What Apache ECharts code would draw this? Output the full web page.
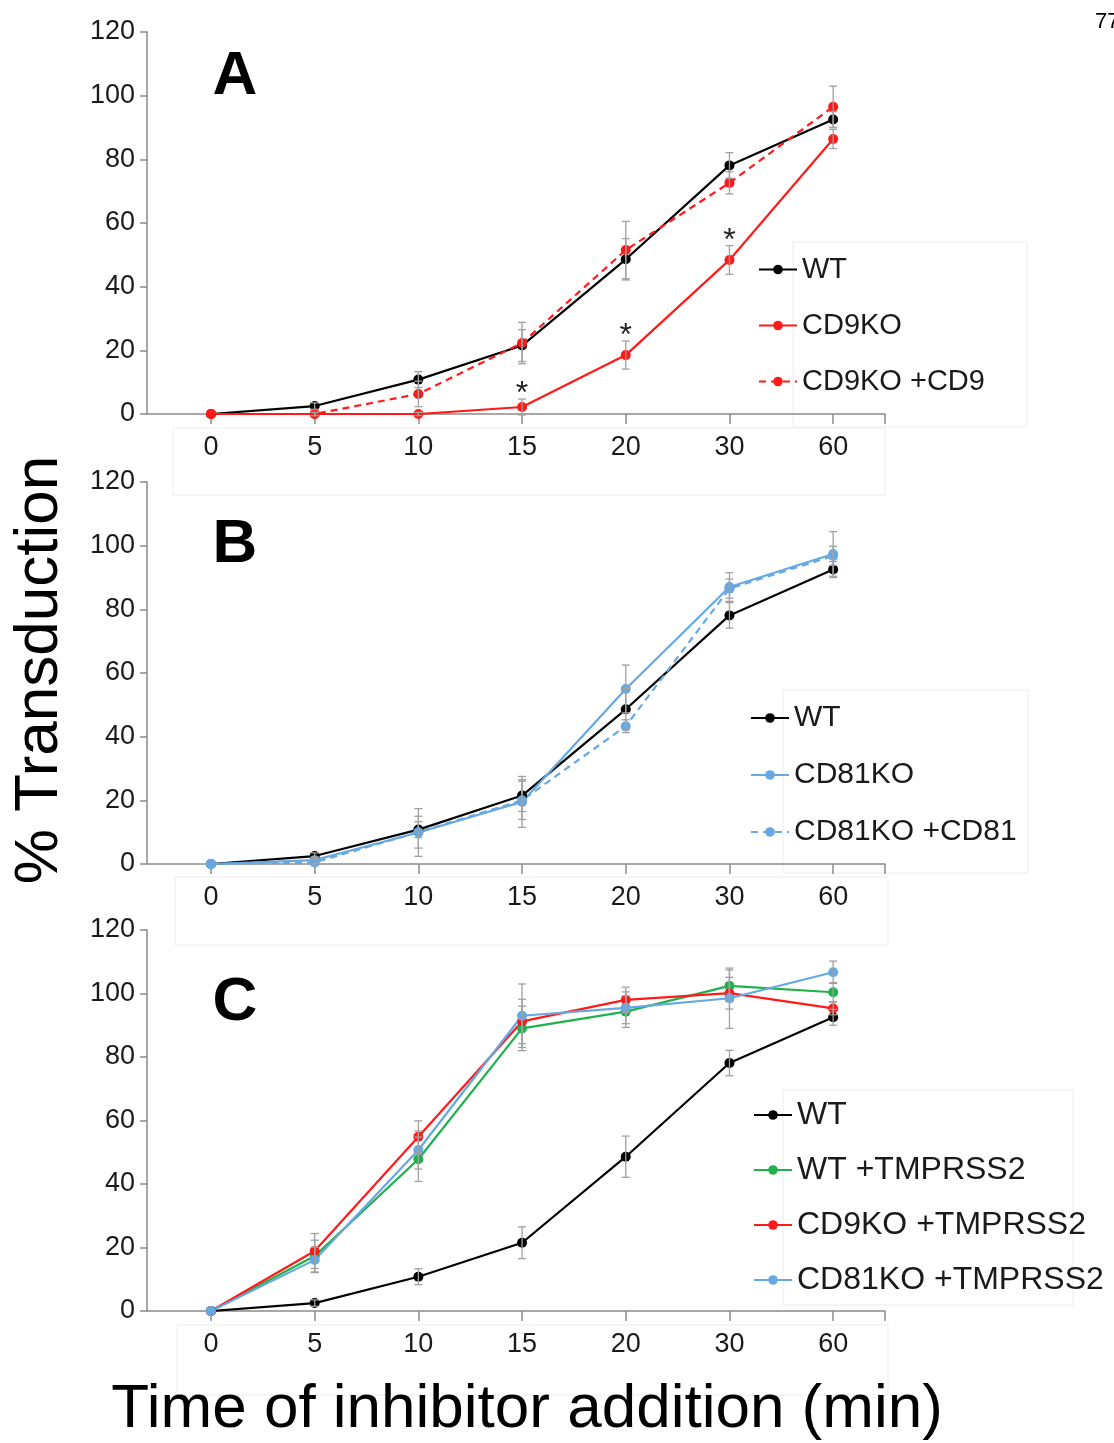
<!DOCTYPE html>
<html>
<head>
<meta charset="utf-8">
<script src="https://cdn.jsdelivr.net/npm/echarts@6/dist/echarts.min.js"></script>
<style>
html,body{margin:0;padding:0;background:#fff;}
#chart{width:1114px;height:1443px;}
</style>
</head>
<body>
<div id="chart"></div>
<script>
// ---- data ----
const categories = ['0', '5', '10', '15', '20', '30', '60'];
const yTicks = [0, 20, 40, 60, 80, 100, 120];

// WT (same control in all panels)
const wt = [0, 2.5, 10.8, 21.5, 48.6, 78.1, 92.5];
const wtErr = [0, 1, 2.5, 5, 6.5, 4, 2.5];

// Panel A
const aCD9KO = [0, 0, 0, 2.2, 18.5, 48.4, 86.4];
const aCD9KOErr = [0, 0.5, 0.5, 2.5, 4.4, 4.5, 3];
const aCD9KOplusCD9 = [0, 0, 6.3, 22.3, 51.5, 72.6, 96.5];
const aCD9KOplusCD9Err = [0, 0.5, 4, 6.5, 9, 3.5, 6.5];
const aSignificant = [3, 4, 5];

// Panel B
const bCD81KO = [0, 1.2, 9.9, 19.5, 55, 87, 97.4];
const bCD81KOErr = [0, 1, 7.5, 8, 7.5, 4.5, 7];
const bCD81KOplusCD81 = [0, 0.5, 10, 20, 43.3, 86.5, 96.8];
const bCD81KOplusCD81Err = [0, 1, 5, 6, 2, 3, 3];

// Panel C
const cWTplusT = [0, 17.3, 47.8, 89, 94.3, 102.4, 100.4];
const cWTplusTErr = [0, 5, 7, 7, 5, 5, 3];
const cCD9KOplusT = [0, 18.9, 54.9, 91.2, 98, 100.1, 95.3];
const cCD9KOplusTErr = [0, 5.5, 5, 7, 4, 5, 2];
const cCD81KOplusT = [0, 16.1, 50.7, 93, 95.5, 98.5, 106.7];
const cCD81KOplusTErr = [0, 4, 6, 10, 5, 9.5, 3.5];

// ---- styles ----
const FONT = 'Liberation Sans, Arial, sans-serif';
const BLACK = '#000000', RED = '#ff1a1a', BLUE = '#66a8e2', GREEN = '#1fb14c';
const AXIS = '#8a8a8a', ERR = '#a0a0a0';

const grids = [
  {left: 147, top: 32, width: 738, height: 382},
  {left: 147, top: 482, width: 738, height: 382},
  {left: 147, top: 930, width: 738, height: 381}
];

function xAxis(i) {
  return {
    type: 'value', gridIndex: i, min: -0.617, max: 6.5,
    axisLine: {show: true, onZero: false, lineStyle: {color: AXIS, width: 1.5}},
    axisTick: {show: true, customValues: [0, 1, 2, 3, 4, 5, 6, 6.5], length: 10, lineStyle: {color: AXIS, width: 1.5}},
    axisLabel: {customValues: [0, 1, 2, 3, 4, 5, 6], formatter: v => categories[Math.round(v)], fontSize: 27, margin: 20, color: '#1a1a1a', fontFamily: FONT},
    splitLine: {show: false}
  };
}
function yAxis(i) {
  return {
    type: 'value', gridIndex: i, min: 0, max: 120, interval: 20,
    axisLine: {show: true, onZero: false, lineStyle: {color: AXIS, width: 1.5}},
    axisTick: {show: true, length: 7, lineStyle: {color: AXIS, width: 1.5}},
    axisLabel: {fontSize: 27, margin: 12, color: '#1a1a1a', fontFamily: FONT},
    splitLine: {show: false}
  };
}

function pts(arr) { return arr.map((v, i) => [i, v]); }

function lineSeries(name, arr, color, dashed, gi, extra) {
  const data = pts(arr).map((p, i) => {
    if (extra && extra.indexOf(i) >= 0) {
      return {value: p, label: {show: true, formatter: '*', position: 'top', distance: i === 3 ? -8 : -2, fontSize: 32, color: '#222', fontFamily: FONT}};
    }
    return p;
  });
  return {
    type: 'line', name: name, xAxisIndex: gi, yAxisIndex: gi, data: data,
    symbol: 'circle', symbolSize: 10, z: 3,
    itemStyle: {color: color},
    lineStyle: {color: color, width: 2.2, type: dashed ? [7, 5] : 'solid'},
    emphasis: {disabled: true}
  };
}

function errSeries(arr, err, gi) {
  return {
    type: 'custom', xAxisIndex: gi, yAxisIndex: gi, z: 4, silent: true,
    data: arr.map((v, i) => [i, v, err[i]]),
    renderItem: function (params, api) {
      const x = api.value(0), y = api.value(1), e = api.value(2);
      if (!e) return null;
      const top = api.coord([x, y + e]);
      const bot = api.coord([x, y - e]);
      const w = 4;
      const st = {stroke: ERR, lineWidth: 1.3};
      return {type: 'group', children: [
        {type: 'line', shape: {x1: top[0], y1: top[1], x2: bot[0], y2: bot[1]}, style: st},
        {type: 'line', shape: {x1: top[0] - w, y1: top[1], x2: top[0] + w, y2: top[1]}, style: st},
        {type: 'line', shape: {x1: bot[0] - w, y1: bot[1], x2: bot[0] + w, y2: bot[1]}, style: st}
      ]};
    }
  };
}

function legend(names, left, top, gap, fs) {
  return {
    data: names, left: left, top: top, orient: 'vertical',
    itemWidth: 38, itemHeight: 12, itemGap: gap, itemTextGap: 13,
    textStyle: {fontSize: fs, color: '#1a1a1a', fontFamily: FONT},
    selectedMode: false
  };
}

const series = [
  // A
  errSeries(wt, wtErr, 0),
  errSeries(aCD9KO, aCD9KOErr, 0),
  errSeries(aCD9KOplusCD9, aCD9KOplusCD9Err, 0),
  lineSeries('WT', wt, BLACK, false, 0),
  lineSeries('CD9KO', aCD9KO, RED, false, 0, aSignificant),
  lineSeries('CD9KO +CD9', aCD9KOplusCD9, RED, true, 0),
  // B
  errSeries(wt, wtErr, 1),
  errSeries(bCD81KO, bCD81KOErr, 1),
  errSeries(bCD81KOplusCD81, bCD81KOplusCD81Err, 1),
  lineSeries('WT ', wt, BLACK, false, 1),
  lineSeries('CD81KO', bCD81KO, BLUE, false, 1),
  lineSeries('CD81KO +CD81', bCD81KOplusCD81, BLUE, true, 1),
  // C
  errSeries(wt, wtErr, 2),
  errSeries(cWTplusT, cWTplusTErr, 2),
  errSeries(cCD9KOplusT, cCD9KOplusTErr, 2),
  errSeries(cCD81KOplusT, cCD81KOplusTErr, 2),
  lineSeries('WT  ', wt, BLACK, false, 2),
  lineSeries('WT +TMPRSS2', cWTplusT, GREEN, false, 2),
  lineSeries('CD9KO +TMPRSS2', cCD9KOplusT, RED, false, 2),
  lineSeries('CD81KO +TMPRSS2', cCD81KOplusT, BLUE, false, 2)
];

function txt(text, x, y, font, rot) {
  return {type: 'text', x: x, y: y, rotation: rot || 0, z: 10,
    style: {text: text, font: font, fill: '#000', align: 'center', verticalAlign: 'middle'}};
}
function box(x, y, w, h) {
  return {type: 'rect', shape: {x: x, y: y, width: w, height: h}, z: -1,
    style: {fill: 'none', stroke: '#ececec', lineWidth: 1}};
}

const option = {
  animation: false,
  backgroundColor: '#fff',
  grid: grids,
  xAxis: [xAxis(0), xAxis(1), xAxis(2)],
  yAxis: [yAxis(0), yAxis(1), yAxis(2)],
  legend: [
    legend(['WT', 'CD9KO', 'CD9KO +CD9'], 753, 250, 27, 29),
    legend(['WT ', 'CD81KO', 'CD81KO +CD81'], 745, 698, 27, 30),
    legend(['WT  ', 'WT +TMPRSS2', 'CD9KO +TMPRSS2', 'CD81KO +TMPRSS2'], 748, 1094, 23, 32)
  ],
  series: series,
  graphic: [
    box(793, 242, 234, 185), box(783, 690, 245, 183), box(783, 1090, 290, 215),
    box(173, 428, 712, 67), box(175, 877, 713, 68), box(177, 1325, 711, 70),
    txt('A', 235, 77, 'bold 62px ' + FONT),
    txt('B', 235, 545, 'bold 62px ' + FONT),
    txt('C', 235, 1003, 'bold 62px ' + FONT),
    txt('% Transduction', 40, 670, '62px ' + FONT, Math.PI / 2),
    txt('Time of inhibitor addition (min)', 527, 1410, '62px ' + FONT),
    {type: 'text', x: 1095, y: 22, z: 10, style: {text: '77', font: '22px ' + FONT, fill: '#000', align: 'left', verticalAlign: 'middle'}}
  ]
};

const chart = echarts.init(document.getElementById('chart'), null, {renderer: 'canvas'});
chart.setOption(option);
</script>
</body>
</html>
